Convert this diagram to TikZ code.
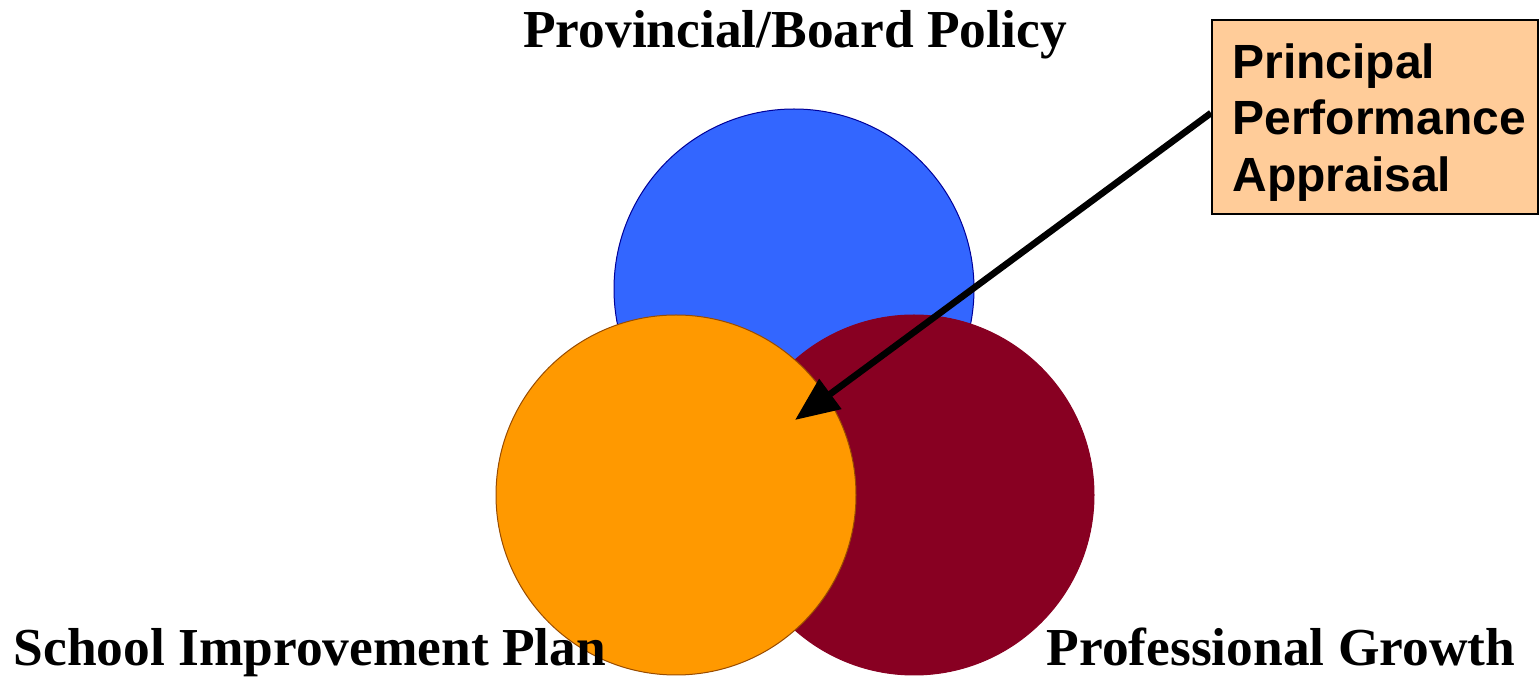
\documentclass[tikz,border=0pt]{standalone}
\usepackage{fontspec}
\setmainfont{Liberation Serif}
\newfontfamily\arialfont{Liberation Sans}
\usetikzlibrary{arrows.meta}
\definecolor{cblue}{HTML}{3366FF}
\definecolor{corange}{HTML}{FF9900}
\definecolor{cred}{HTML}{880022}
\definecolor{cpeach}{HTML}{FFCC99}
\begin{document}
\begin{tikzpicture}[x=0.5pt,y=-0.5pt,
  venn/.style={circle,minimum size=180pt,inner sep=0pt,line width=0.5pt},
  lbl/.style={font=\fontsize{26.7}{30}\selectfont\bfseries,inner sep=0pt,anchor=base},
  callout/.style={draw=black,line width=1.2pt,fill=cpeach,anchor=north west,
     minimum width=163pt,minimum height=97pt,align=left,inner xsep=10pt,
     font=\arialfont\fontsize{24}{28.3}\selectfont\bfseries,text width=143pt}]
\useasboundingbox (0,0) rectangle (1539,678);
\node[venn,fill=cblue,draw=blue!60!black] (top) at (794,289) {};
\node[venn,fill=cred,draw=cred] (right) at (914,495) {};
\node[venn,fill=corange,draw=orange!60!black] (left) at (676,495) {};
\node[lbl] (ttop) at (795,48) {Provincial/Board Policy};
\node[lbl] (tleft) at (310,666) {School Improvement Plan};
\node[lbl] (tright) at (1281,666) {Professional Growth};
\node[callout] (box) at (1211,19) {};
\node[font=\arialfont\fontsize{24}{28.3}\selectfont\bfseries,align=left,anchor=north west,inner sep=0pt] (btxt) at (1232,43) {Principal\\Performance\\Appraisal};
\coordinate (tip) at (795,420);
\draw[line width=3.3pt,-{Triangle[length=22pt,width=18pt]}] (box.west |- 0,113) -- (tip);
\end{tikzpicture}
\end{document}
